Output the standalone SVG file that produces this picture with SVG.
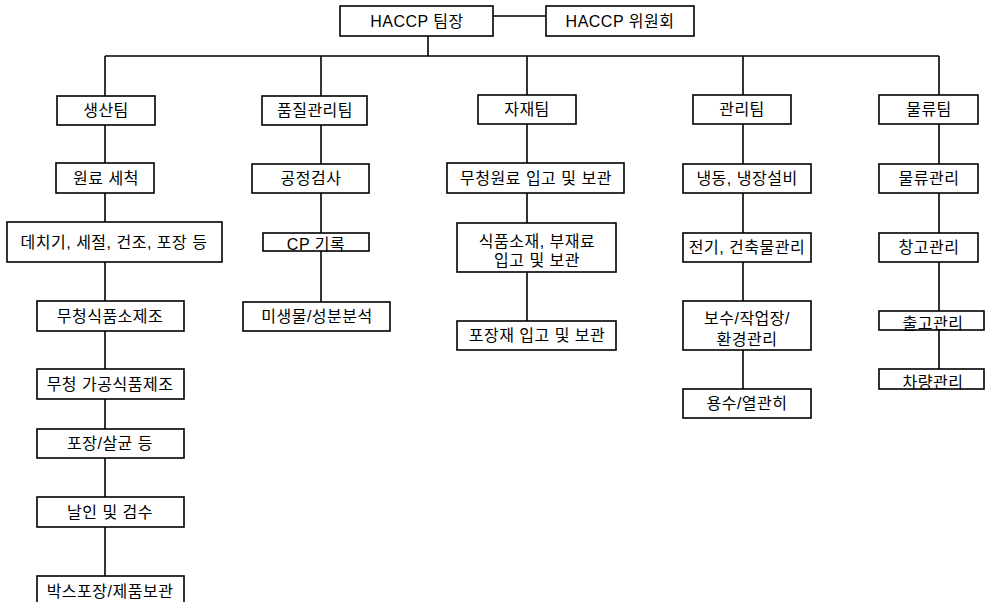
<svg xmlns="http://www.w3.org/2000/svg" width="985" height="602" viewBox="0 0 985 602">
<style>
.box{fill:#fff;stroke:#000;stroke-width:1.6}
.ln{fill:none;stroke:#000;stroke-width:1.6}
.t{font-family:"Liberation Sans","Noto Sans CJK KR",sans-serif;font-size:16px;letter-spacing:0.5px;text-anchor:middle;fill:#000}
</style>
<rect width="985" height="602" fill="#fff"/>
<g id="connectors">
<path class="ln" d="M493 16H546"/>
<path class="ln" d="M428 36V56"/>
<path class="ln" d="M105 56H939"/>
<path class="ln" d="M105 56V576"/>
<path class="ln" d="M321 56V302"/>
<path class="ln" d="M527 56V321"/>
<path class="ln" d="M743 56V389"/>
<path class="ln" d="M939 56V369"/>
</g>
<g id="n-leader"><rect class="box" x="340" y="6" width="153" height="30"/><text class="t" x="417" y="27">HACCP 팀장</text></g>
<g id="n-committee"><rect class="box" x="546" y="6" width="148" height="30"/><text class="t" x="620" y="27">HACCP 위원회</text></g>

<g id="n-prod"><rect class="box" x="57" y="96" width="98" height="29"/><text class="t" x="106" y="116">생산팀</text></g>
<g id="n-prod1"><rect class="box" x="56" y="163" width="98" height="30"/><text class="t" x="106" y="184">원료 세척</text></g>
<g id="n-prod2"><rect class="box" x="7" y="222" width="215" height="40"/><text class="t" x="114" y="248">데치기, 세절, 건조, 포장 등</text></g>
<g id="n-prod3"><rect class="box" x="37" y="301" width="147" height="30"/><text class="t" x="110" y="322">무청식품소제조</text></g>
<g id="n-prod4"><rect class="box" x="37" y="369" width="147" height="30"/><text class="t" x="110" y="390">무청 가공식품제조</text></g>
<g id="n-prod5"><rect class="box" x="37" y="429" width="147" height="29"/><text class="t" x="110" y="449">포장/살균 등</text></g>
<g id="n-prod6"><rect class="box" x="37" y="497" width="147" height="30"/><text class="t" x="110" y="518">날인 및 검수</text></g>
<g id="n-prod7"><rect class="box" x="37" y="576" width="147" height="40"/><text class="t" x="110" y="597">박스포장/제품보관</text></g>

<g id="n-qa"><rect class="box" x="262" y="96" width="105" height="29"/><text class="t" x="315" y="116">품질관리팀</text></g>
<g id="n-qa1"><rect class="box" x="252" y="164" width="117" height="29"/><text class="t" x="311" y="184">공정검사</text></g>
<g id="n-qa2"><rect class="box" x="263" y="233" width="106" height="18"/><text class="t" x="316" y="250">CP 기록</text></g>
<g id="n-qa3"><rect class="box" x="243" y="302" width="147" height="29"/><text class="t" x="317" y="322">미생물/성분분석</text></g>

<g id="n-mat"><rect class="box" x="478" y="95" width="98" height="29"/><text class="t" x="527" y="115">자재팀</text></g>
<g id="n-mat1"><rect class="box" x="447" y="163" width="177" height="30"/><text class="t" x="536" y="184">무청원료 입고 및 보관</text></g>
<g id="n-mat2"><rect class="box" x="457" y="223" width="159" height="49"/><text class="t" x="537" y="247">식품소재, 부재료</text><text class="t" x="537" y="266">입고 및 보관</text></g>
<g id="n-mat3"><rect class="box" x="457" y="321" width="159" height="29"/><text class="t" x="537" y="341">포장재 입고 및 보관</text></g>

<g id="n-mgmt"><rect class="box" x="693" y="95" width="98" height="29"/><text class="t" x="742" y="115">관리팀</text></g>
<g id="n-mgmt1"><rect class="box" x="683" y="164" width="128" height="29"/><text class="t" x="747" y="184">냉동, 냉장설비</text></g>
<g id="n-mgmt2"><rect class="box" x="683" y="233" width="128" height="29"/><text class="t" x="747" y="253">전기, 건축물관리</text></g>
<g id="n-mgmt3"><rect class="box" x="683" y="301" width="128" height="49"/><text class="t" x="747" y="324">보수/작업장/</text><text class="t" x="747" y="345">환경관리</text></g>
<g id="n-mgmt4"><rect class="box" x="683" y="389" width="128" height="29"/><text class="t" x="747" y="409">용수/열관히</text></g>

<g id="n-log"><rect class="box" x="879" y="95" width="99" height="29"/><text class="t" x="929" y="115">물류팀</text></g>
<g id="n-log1"><rect class="box" x="879" y="164" width="99" height="29"/><text class="t" x="929" y="184">물류관리</text></g>
<g id="n-log2"><rect class="box" x="879" y="233" width="99" height="29"/><text class="t" x="929" y="253">창고관리</text></g>
<g id="n-log3"><rect class="box" x="879" y="311" width="105" height="19"/><text class="t" x="933" y="329">출고관리</text></g>
<g id="n-log4"><rect class="box" x="879" y="369" width="105" height="20"/><text class="t" x="933" y="388">차량관리</text></g>
</svg>
